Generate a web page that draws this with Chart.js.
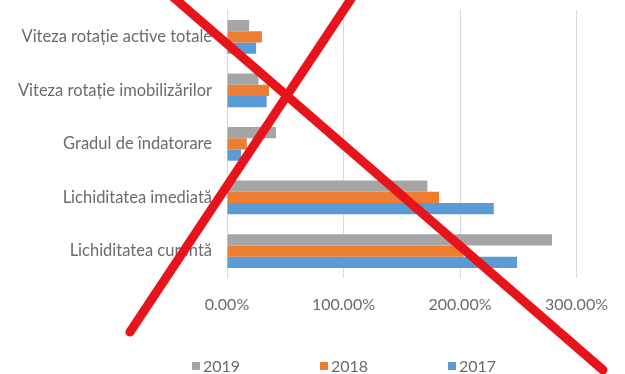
<!DOCTYPE html>
<html>
<head>
<meta charset="utf-8">
<script src="https://cdn.jsdelivr.net/npm/chart.js@4"></script>
<style>
  html, body { margin: 0; padding: 0; background: #fff; }
  #wrap { width: 625px; height: 374px; position: relative; }
</style>
</head>
<body>
<div id="wrap"><canvas id="chart"></canvas></div>
<script>
// indicator names (top to bottom)
const categories = [
  "Viteza rotație active totale",
  "Viteza rotație imobilizărilor",
  "Gradul de îndatorare",
  "Lichiditatea imediată",
  "Lichiditatea curentă",
];
const years = ["2019", "2018", "2017"];
// values in percent
const values2019 = [19, 27, 42, 172, 279];
const values2018 = [30, 36, 17, 182, 203];
const values2017 = [25, 34, 12, 229, 249];
const xTicks = [0, 100, 200, 300];

const colors = ["#A5A5A5", "#ED7D31", "#5B9BD5"];
const textColor = "#6b6b6b";
const fontFamily = "Lato, 'Open Sans', sans-serif";

// --- legend drawn under the plot, spaced like the original ---
const spacedLegend = {
  id: "spacedLegend",
  afterDraw(chart) {
    const ctx = chart.ctx;
    const items = chart.data.datasets;
    const gap = 128;
    const startX = 192;
    const y = 366;
    ctx.save();
    ctx.font = "16px " + fontFamily;
    ctx.textBaseline = "middle";
    ctx.textAlign = "left";
    items.forEach((ds, i) => {
      const x = startX + i * gap;
      ctx.fillStyle = ds.backgroundColor;
      ctx.fillRect(x, y - 4, 8, 8);
      ctx.fillStyle = textColor;
      ctx.fillText(ds.label, x + 11, y + 1);
    });
    ctx.restore();
  },
};

// --- red cross over the whole picture ---
const redCross = {
  id: "redCross",
  afterDraw(chart) {
    const ctx = chart.ctx;
    ctx.save();
    ctx.strokeStyle = "#E8141C";
    ctx.lineWidth = 9;
    ctx.lineCap = "round";
    ctx.beginPath();
    ctx.moveTo(165, -10);
    ctx.lineTo(603, 370);
    ctx.moveTo(130, 332);
    ctx.lineTo(357, -10);
    ctx.stroke();
    ctx.restore();
  },
};

new Chart(document.getElementById("chart"), {
  type: "bar",
  data: {
    labels: categories,
    datasets: [
      { label: years[0], data: values2019, backgroundColor: colors[0] },
      { label: years[1], data: values2018, backgroundColor: colors[1] },
      { label: years[2], data: values2017, backgroundColor: colors[2] },
    ],
  },
  options: {
    indexAxis: "y",
    responsive: true,
    maintainAspectRatio: false,
    animation: false,
    categoryPercentage: 0.63,
    barPercentage: 1.0,
    layout: { padding: { left: 0, right: 45, top: 10, bottom: 43 } },
    plugins: {
      legend: { display: false },
      tooltip: { enabled: false },
    },
    scales: {
      x: {
        min: xTicks[0],
        max: xTicks[xTicks.length - 1],
        afterBuildTicks(scale) {
          scale.ticks = xTicks.map((v) => ({ value: v }));
        },
        grid: { color: "#D9D9D9", drawTicks: false },
        border: { display: false },
        ticks: {
          padding: 17,
          color: textColor,
          font: { family: fontFamily, size: 16 },
          callback: (v) => Number(v).toFixed(2) + "%",
        },
      },
      y: {
        afterFit(scale) {
          scale.width = 227;
          // tick padding should not push the plot down
          scale.paddingTop = 0;
          scale.paddingBottom = 0;
        },
        grid: { display: false, drawTicks: false },
        border: { display: false },
        ticks: {
          padding: 15,
          color: textColor,
          font: { family: fontFamily, size: 16.5 },
        },
      },
    },
  },
  plugins: [spacedLegend, redCross],
});
</script>
</body>
</html>
